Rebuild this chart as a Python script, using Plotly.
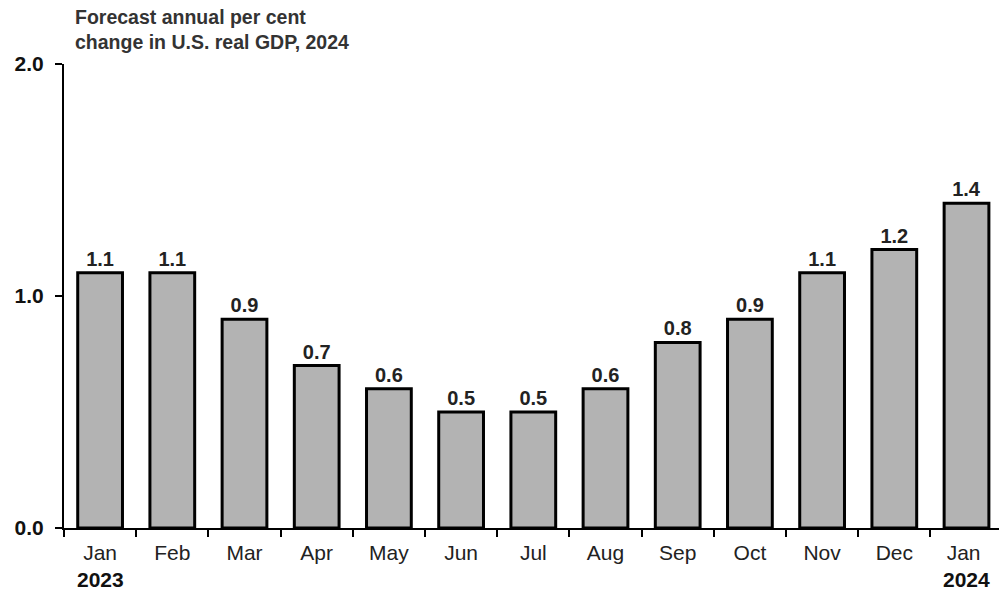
import plotly.graph_objects as go

months = ["Jan", "Feb", "Mar", "Apr", "May", "Jun", "Jul", "Aug", "Sep", "Oct", "Nov", "Dec", "Jan "]
values = [1.1, 1.1, 0.9, 0.7, 0.6, 0.5, 0.5, 0.6, 0.8, 0.9, 1.1, 1.2, 1.4]
year_labels = [("Jan", "2023"), ("Jan ", "2024")]
y_ticks = [0.0, 1.0, 2.0]

FONT = "Liberation Sans, Arial, sans-serif"

fig = go.Figure()
fig.add_trace(go.Bar(
    x=months, y=values,
    width=0.62,
    marker=dict(color="#b3b3b3", line=dict(color="black", width=3)),
    text=[f"{v:.1f}" for v in values],
    textposition="outside",
    textfont=dict(family=FONT, size=20, color="#222"),
    texttemplate="<b>%{text}</b>",
    cliponaxis=False,
))

for cat, yr in year_labels:
    fig.add_annotation(x=cat, y=0, xref="x", yref="y", text=f"<b>{yr}</b>",
                       showarrow=False, yanchor="top", yshift=-38,
                       font=dict(family=FONT, size=21, color="#111"))

fig.add_annotation(x=0, y=1, xref="paper", yref="paper", xanchor="left", yanchor="bottom",
                   xshift=9, yshift=9, align="left", showarrow=False,
                   text="<b>Forecast annual per cent<br>change in U.S. real GDP, 2024</b>",
                   font=dict(family=FONT, size=19.5, color="#333"))

fig.update_layout(
    width=999, height=594,
    margin=dict(l=64, r=0, t=64, b=66),
    plot_bgcolor="white", paper_bgcolor="white",
    showlegend=False,
    xaxis=dict(
        type="category", range=[-0.5, 12.45],
        showline=True, linecolor="black", linewidth=2,
        ticks="outside", tickson="boundaries", ticklen=7, tickwidth=1.5, tickcolor="black",
        tickfont=dict(family=FONT, size=21, color="#222"),
        ticklabelstandoff=5,
        showgrid=False, zeroline=False,
    ),
    yaxis=dict(
        range=[0, 2.0], tickvals=y_ticks, ticktext=[f"<b>{t:.1f}</b>" for t in y_ticks],
        showline=True, linecolor="black", linewidth=2,
        ticks="outside", ticklen=7, tickwidth=1.5, tickcolor="black",
        tickfont=dict(family=FONT, size=21, color="#111"),
        ticklabelstandoff=7,
        showgrid=False, zeroline=False,
    ),
)

fig.write_html("out.html", config={"displayModeBar": False},
               post_script="document.body.style.margin='0';document.body.style.overflow='hidden';")
